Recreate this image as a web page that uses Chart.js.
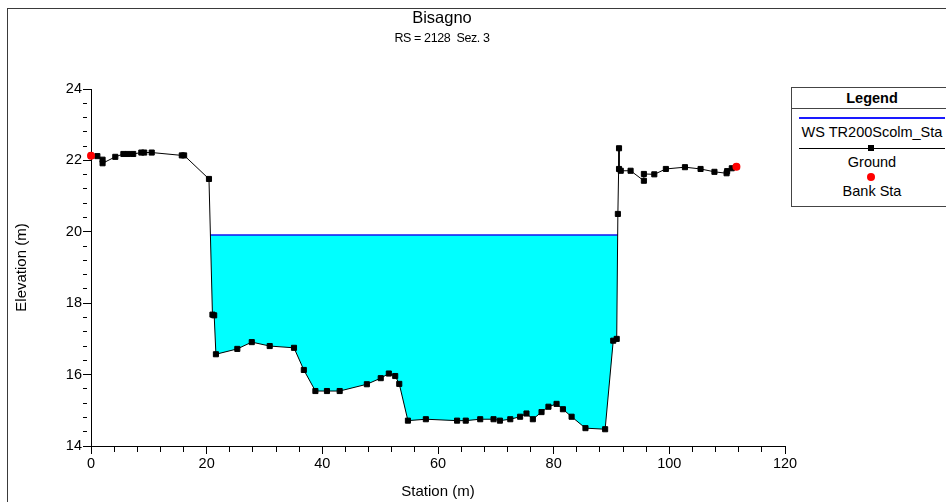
<!DOCTYPE html>
<html>
<head>
<meta charset="utf-8">
<title>Bisagno - RS 2128 Sez. 3</title>
<script src="https://cdn.jsdelivr.net/npm/chart.js@4.4.1/dist/chart.umd.min.js"></script>
<style>
  html, body { margin: 0; padding: 0; background: #fff; }
  body { width: 946px; height: 502px; overflow: hidden; position: relative;
         font-family: "Liberation Sans", Arial, sans-serif; color: #000; }
  #chart { position: absolute; left: 0; top: 0; }
  .frame { position: absolute; left: 7px; top: 8px; width: 960px; height: 520px;
           border-left: 1px solid #3a3a3a; border-top: 1px solid #3a3a3a; pointer-events: none; }
  .title { position: absolute; left: 342px; width: 200px; text-align: center; white-space: nowrap; }
  #t1 { top: 8px; font-size: 16.5px; }
  #t2 { top: 31px; font-size: 12.5px; letter-spacing: -0.4px; }
  .legend { position: absolute; left: 791px; top: 87px; width: 175px; height: 118px;
            border: 1px solid #444; background: #fff; font-size: 14.5px; }
  .legend .head { width: 160px; height: 20px; line-height: 20px; text-align: center; font-weight: bold;
                  border-bottom: 1px solid #444; margin-right: -20px; padding-right: 15px; box-sizing: content-box; }
  .legend .txt { position: absolute; left: 0; width: 160px; text-align: center; white-space: nowrap; line-height: 16px; }
  .legend .ln { position: absolute; left: 7px; width: 146px; }
  .legend .sq { position: absolute; width: 6px; height: 6px; background: #000; }
  .legend .dot { position: absolute; width: 8px; height: 8px; border-radius: 50%; background: #ff0000; }
</style>
</head>
<body>
<canvas id="chart" width="946" height="502"></canvas>
<div class="frame"></div>
<div class="title" id="t1">Bisagno</div>
<div class="title" id="t2">RS = 2128&nbsp; Sez. 3</div>
<div class="legend">
  <div class="head">Legend</div>
  <div class="ln" style="top:29px;height:1.5px;background:#1a1aff;"></div>
  <div class="txt" style="top:36px;">WS TR200Scolm_Sta</div>
  <div class="ln" style="top:60px;height:1px;background:#000;"></div>
  <div class="sq" style="left:76px;top:57px;"></div>
  <div class="txt" style="top:66px;">Ground</div>
  <div class="dot" style="left:75px;top:85px;"></div>
  <div class="txt" style="top:95px;">Bank Sta</div>
</div>
<script>
// Cross section: station (m) and ground elevation (m)
const groundStation = [
  0.0, 1.1, 2.0, 2.0, 4.2, 5.6, 6.4, 7.3, 8.7, 9.2, 10.5, 15.7, 16.1, 20.4,
  21.0, 21.3, 21.6, 25.3, 27.8, 30.9, 35.1, 36.8, 38.8, 40.8, 43.0, 47.7,
  50.1, 51.5, 52.6, 53.3, 54.8, 57.9, 63.3, 64.8, 67.3, 69.6, 70.7, 72.5,
  74.2, 75.3, 76.4, 77.9, 79.1, 80.5, 81.6, 83.1, 85.5, 88.9, 90.3, 90.9,
  91.1, 91.3, 91.3, 91.6, 93.3, 95.6, 95.6, 97.4, 99.4, 102.7, 105.4, 107.8,
  109.9, 110.0, 110.8, 111.6
];
const groundElevation = [
  22.13, 22.12, 22.02, 21.92, 22.10, 22.18, 22.18, 22.18, 22.22, 22.22, 22.22, 22.14, 22.14, 21.48,
  17.68, 17.66, 16.57, 16.72, 16.91, 16.80, 16.75, 16.13, 15.54, 15.54, 15.54, 15.73,
  15.90, 16.03, 15.96, 15.74, 14.71, 14.75, 14.71, 14.71, 14.75, 14.75, 14.71, 14.75,
  14.82, 14.91, 14.75, 14.95, 15.10, 15.18, 15.03, 14.82, 14.50, 14.47, 16.95, 17.00,
  20.50, 22.34, 21.76, 21.71, 21.71, 21.43, 21.62, 21.61, 21.76, 21.81, 21.76, 21.68,
  21.64, 21.70, 21.78, 21.82
];
// Bank stations
const bankStation = [0.0, 111.6];
const bankElevation = [22.13, 21.82];
// Water surface elevation, profile TR200Scolm_Sta
const wsElevation = 19.91;

// Axis tick labels
const xMajorTicks = [0, 20, 40, 60, 80, 100, 120];
const yMajorTicks = [14, 16, 18, 20, 22, 24];
const minorDivisions = 5;

const ground = groundStation.map((s, i) => ({ x: s, y: groundElevation[i] }));
const banks = bankStation.map((s, i) => ({ x: s, y: bankElevation[i] }));

// Where the water surface meets the ground on each side of the channel
function crossing(a, b) {
  const t = (wsElevation - a.y) / (b.y - a.y);
  return { x: a.x + t * (b.x - a.x), y: wsElevation };
}
let iL = 0;
while (!(ground[iL].y >= wsElevation && ground[iL + 1].y < wsElevation)) iL++;
let iR = ground.length - 1;
while (!(ground[iR].y >= wsElevation && ground[iR - 1].y < wsElevation)) iR--;
const leftEdge = crossing(ground[iL], ground[iL + 1]);
const rightEdge = crossing(ground[iR - 1], ground[iR]);
// Wetted area: along the surface, then back along the bed
const waterArea = [leftEdge, ...ground.slice(iL + 1, iR), rightEdge, leftEdge];
const waterLine = [leftEdge, rightEdge];

function withMinor(majors) {
  const ticks = [];
  for (let i = 0; i < majors.length; i++) {
    ticks.push({ value: majors[i], major: true });
    if (i < majors.length - 1) {
      const step = (majors[i + 1] - majors[i]) / minorDivisions;
      for (let k = 1; k < minorDivisions; k++) {
        ticks.push({ value: majors[i] + k * step, major: false });
      }
    }
  }
  return ticks;
}
const isMajor = (list, v) => list.some(m => Math.abs(m - v) < 1e-6);

const family = '"Liberation Sans", Arial, sans-serif';
const axisFont = { family, size: 14.5 };
const axisTitleFont = { family, size: 15 };

new Chart(document.getElementById('chart'), {
  type: 'scatter',
  data: {
    datasets: [
      {
        label: 'Bank Sta',
        data: banks,
        showLine: false,
        pointStyle: 'circle',
        pointRadius: 4,
        pointBackgroundColor: '#ff0000',
        pointBorderColor: '#ff0000',
        pointBorderWidth: 0,
        clip: false
      },
      {
        label: 'Ground',
        data: ground,
        showLine: true,
        borderColor: '#000',
        borderWidth: 1,
        pointStyle: 'rect',
        pointRadius: 3.6,
        pointBackgroundColor: '#000',
        pointBorderColor: '#000',
        pointBorderWidth: 1,
        tension: 0,
        clip: false
      },
      {
        label: 'WS TR200Scolm_Sta',
        data: waterLine,
        showLine: true,
        borderColor: '#1414f0',
        borderWidth: 1.5,
        pointRadius: 0,
        tension: 0
      },
      {
        label: 'water',
        data: waterArea,
        showLine: true,
        borderWidth: 0,
        borderColor: 'rgba(0,0,0,0)',
        backgroundColor: '#00ffff',
        fill: 'shape',
        pointRadius: 0,
        tension: 0
      }
    ]
  },
  options: {
    responsive: false,
    animation: false,
    devicePixelRatio: 1,
    layout: { padding: { left: 0, top: 89, right: 161, bottom: 0 } },
    plugins: {
      legend: { display: false },
      tooltip: { enabled: false },
      title: { display: false }
    },
    scales: {
      x: {
        type: 'linear',
        min: 0,
        max: 120,
        afterBuildTicks: s => { s.ticks = withMinor(xMajorTicks); },
        afterFit: s => { s.height = 56; },
        border: { display: true, color: '#000', width: 1 },
        grid: {
          drawOnChartArea: false,
          drawTicks: true,
          tickLength: 8,
          tickColor: '#000',
          tickBorderDash: ctx => (ctx.tick && isMajor(xMajorTicks, ctx.tick.value)) ? [] : [5, 20]
        },
        ticks: {
          autoSkip: false,
          maxRotation: 0,
          padding: 1,
          color: '#000',
          font: axisFont,
          callback: v => isMajor(xMajorTicks, v) ? String(Math.round(v)) : ''
        },
        title: {
          display: true,
          text: 'Station (m)',
          color: '#000',
          font: axisTitleFont,
          padding: { top: 0, bottom: 1 }
        }
      },
      y: {
        type: 'linear',
        min: 14,
        max: 24,
        afterBuildTicks: s => { s.ticks = withMinor(yMajorTicks); },
        afterFit: s => { s.width = 91; },
        border: { display: true, color: '#000', width: 1 },
        grid: {
          drawOnChartArea: false,
          drawTicks: true,
          tickLength: 8,
          tickColor: '#000',
          tickBorderDash: ctx => (ctx.tick && isMajor(yMajorTicks, ctx.tick.value)) ? [] : [4, 20]
        },
        ticks: {
          autoSkip: false,
          padding: 1,
          color: '#000',
          font: axisFont,
          callback: v => isMajor(yMajorTicks, v) ? String(Math.round(v)) : ''
        },
        title: {
          display: true,
          text: 'Elevation (m)',
          color: '#000',
          font: axisTitleFont,
          padding: { top: 13, bottom: 0 }
        }
      }
    }
  }
});
</script>
</body>
</html>
